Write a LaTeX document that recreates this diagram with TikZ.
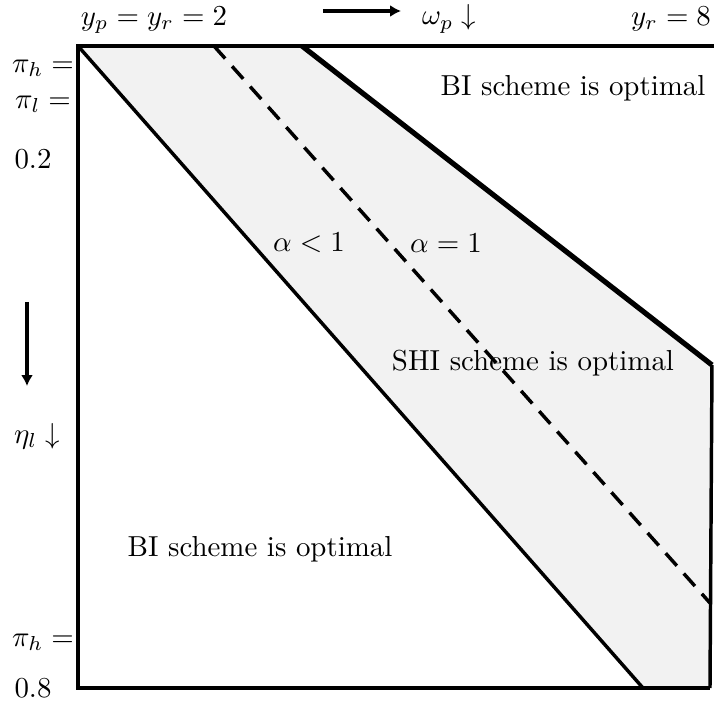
\documentclass[tikz,border=0pt]{standalone}
\usetikzlibrary{arrows.meta}
\begin{document}
\begin{tikzpicture}[x=0.346pt,y=-0.346pt,
  frame/.style={line width=1.4pt,line join=miter},
  bound/.style={line width=1.2pt},
  thickbound/.style={line width=1.8pt},
  dashbound/.style={line width=1.2pt,dash pattern=on 5.8pt off 3.6pt},
  region/.style={fill=gray!10},
  lab/.style={inner sep=0pt,text=black},
  dirarrow/.style={line width=1.4pt,-{Latex[length=3.8pt,width=4.2pt]}}]
\useasboundingbox (0,0) rectangle (714,702);
% vertices
\coordinate (TL) at (78,46);
\coordinate (TR) at (714,46);
\coordinate (BL) at (78,688);
\coordinate (BR) at (710,688);
\coordinate (A) at (302,46);
\coordinate (B) at (712,365);
\coordinate (C) at (643,688);
\coordinate (D1) at (214,46);
\coordinate (D2) at (710,603);
% shaded region
\fill[region] (TL) -- (A) -- (B) -- (BR) -- (C) -- cycle;
% boundaries
\draw[bound] (TL) -- (C);
\draw[thickbound] (A) -- (B);
\draw[bound] (B) -- (BR);
\draw[dashbound] (D1) -- (D2);
\draw[frame] (TR) -- (TL) -- (BL) -- (BR);
% top labels
\node[lab] (yp) at (154,20) {$y_p=y_r=2$};
\coordinate (ha1) at (323,11);
\coordinate (ha2) at (401,11);
\draw[dirarrow] (ha1) -- (ha2);
\node[lab] (om) at (449,19) {$\omega_p\downarrow$};
\node[lab] (yr) at (671,19) {$y_r=8$};
% left labels
\node[lab] (pih) at (43,68) {$\pi_h=$};
\node[lab] (pil) at (43,104) {$\pi_l=$};
\node[lab] (v02) at (33,159) {0.2};
\coordinate (va1) at (27,302);
\coordinate (va2) at (27,386);
\draw[dirarrow] (va1) -- (va2);
\node[lab] (eta) at (37,436) {$\eta_l\downarrow$};
\node[lab] (pih2) at (43,642) {$\pi_h=$};
\node[lab] (v08) at (33,688) {0.8};
% region labels
\node[lab] (bi1) at (573,88) {BI scheme is optimal};
\node[lab] (alt) at (309,243) {$\alpha<1$};
\node[lab] (aeq) at (446,243) {$\alpha=1$};
\node[lab] (shi) at (533,363) {SHI scheme is optimal};
\node[lab] (bi2) at (260,549) {BI scheme is optimal};
\end{tikzpicture}
\end{document}
